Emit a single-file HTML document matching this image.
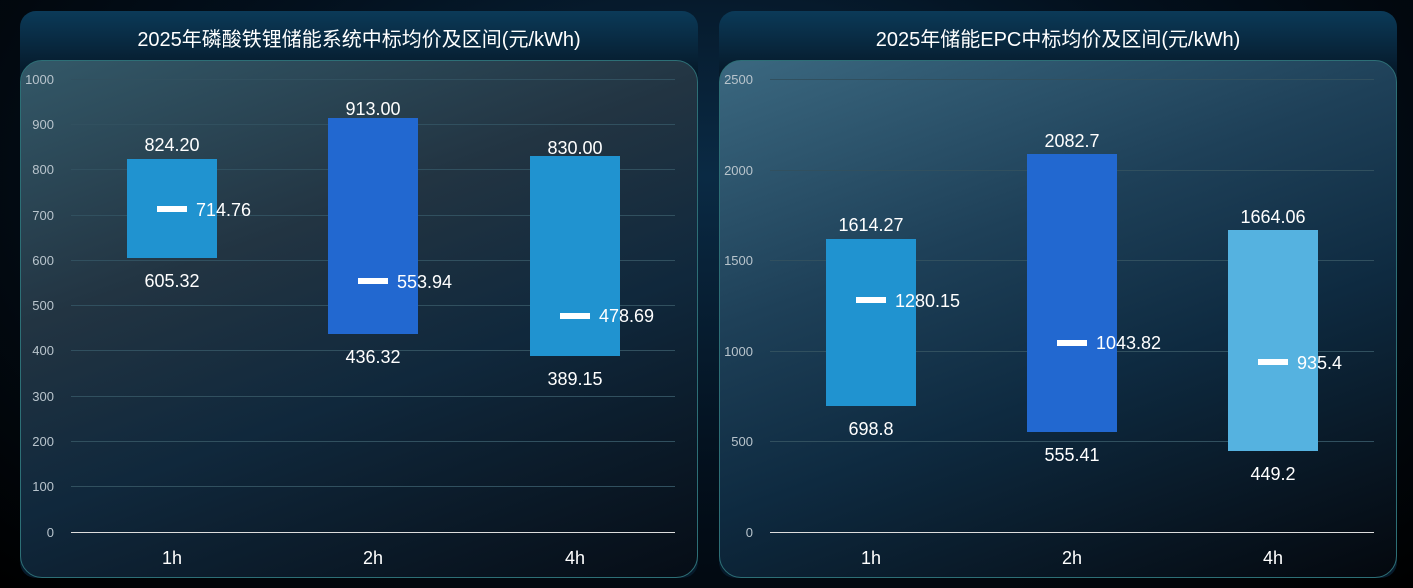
<!DOCTYPE html>
<html><head><meta charset="utf-8"><style>
body{margin:0;width:1413px;height:588px;overflow:hidden;background:radial-gradient(ellipse at 50% 30%,#0a2a44 0%,#03101d 50%,#000 100%);font-family:"Liberation Sans","Noto Sans CJK SC",sans-serif}
.p{position:absolute;top:11px;width:678px;height:567px;border-radius:16px;background:linear-gradient(180deg,#0b3a58,#061a2b 60px);}
.in{position:absolute;left:0;top:49px;width:676px;height:516px;border-radius:22px;border:1px solid #2d6f76;background:linear-gradient(160deg,#335868 0%,#223442 35%,#10283c 60%,#060d16 100%)}
.t{position:absolute;top:12px;width:100%;text-align:center;color:#fff;font-size:20px}
svg{position:absolute;left:0;top:0}
</style></head><body>
<div class="p" style="left:20px"><div class="in"></div><div class="t">2025年磷酸铁锂储能系统中标均价及区间(元/kWh)</div></div>
<div class="p" style="left:719px"><div class="in" style="background:linear-gradient(160deg,#3b6880 0%,#1e4058 35%,#0e2a40 60%,#04080e 100%)"></div><div class="t">2025年储能EPC中标均价及区间(元/kWh)</div></div>
<svg width="1413" height="588" font-family="Liberation Sans, sans-serif">
<g stroke="#31505f" stroke-width="1">
<line x1="71" x2="675" y1="79.5" y2="79.5"/><line x1="71" x2="675" y1="124.5" y2="124.5"/><line x1="71" x2="675" y1="169.5" y2="169.5"/><line x1="71" x2="675" y1="215.5" y2="215.5"/><line x1="71" x2="675" y1="260.5" y2="260.5"/><line x1="71" x2="675" y1="305.5" y2="305.5"/><line x1="71" x2="675" y1="350.5" y2="350.5"/><line x1="71" x2="675" y1="396.5" y2="396.5"/><line x1="71" x2="675" y1="441.5" y2="441.5"/><line x1="71" x2="675" y1="486.5" y2="486.5"/>
<line x1="770" x2="1374" y1="79.5" y2="79.5"/><line x1="770" x2="1374" y1="170.5" y2="170.5"/><line x1="770" x2="1374" y1="260.5" y2="260.5"/><line x1="770" x2="1374" y1="351.5" y2="351.5"/><line x1="770" x2="1374" y1="441.5" y2="441.5"/>
</g>
<line x1="71" x2="675" y1="532.5" y2="532.5" stroke="#ddd"/>
<line x1="770" x2="1374" y1="532.5" y2="532.5" stroke="#ddd"/>
<g fill="#b8c4cc" font-size="13" text-anchor="end">
<text x="54" y="84">1000</text><text x="54" y="129">900</text><text x="54" y="174">800</text><text x="54" y="220">700</text><text x="54" y="265">600</text><text x="54" y="310">500</text><text x="54" y="355">400</text><text x="54" y="401">300</text><text x="54" y="446">200</text><text x="54" y="491">100</text><text x="54" y="537">0</text>
<text x="753" y="84">2500</text><text x="753" y="175">2000</text><text x="753" y="265">1500</text><text x="753" y="356">1000</text><text x="753" y="446">500</text><text x="753" y="537">0</text>
</g>
<g fill="#fff" font-size="18" text-anchor="middle">
<text x="172" y="564">1h</text><text x="373" y="564">2h</text><text x="575" y="564">4h</text>
<text x="871" y="564">1h</text><text x="1072" y="564">2h</text><text x="1273" y="564">4h</text>
</g>
<rect x="127" y="159" width="90" height="99" fill="#2093d0"/>
<rect x="328" y="118" width="90" height="216" fill="#2268d0"/>
<rect x="530" y="156" width="90" height="200" fill="#2093d0"/>
<rect x="826" y="239" width="90" height="167" fill="#2093d0"/>
<rect x="1027" y="154" width="90" height="278" fill="#2268d0"/>
<rect x="1228" y="230" width="90" height="221" fill="#55b2e0"/>
<g fill="#fff">
<rect x="157" y="206" width="30" height="6"/><rect x="358" y="278" width="30" height="6"/><rect x="560" y="313" width="30" height="6"/>
<rect x="856" y="297" width="30" height="6"/><rect x="1057" y="340" width="30" height="6"/><rect x="1258" y="359" width="30" height="6"/>
</g>
<g fill="#fff" font-size="18" text-anchor="middle">
<text x="172" y="151">824.20</text><text x="172" y="287">605.32</text>
<text x="373" y="115">913.00</text><text x="373" y="363">436.32</text>
<text x="575" y="154">830.00</text><text x="575" y="385">389.15</text>
<text x="871" y="231">1614.27</text><text x="871" y="435">698.8</text>
<text x="1072" y="147">2082.7</text><text x="1072" y="461">555.41</text>
<text x="1273" y="223">1664.06</text><text x="1273" y="480">449.2</text>
</g>
<g fill="#fff" font-size="18">
<text x="196" y="216">714.76</text><text x="397" y="288">553.94</text><text x="599" y="322">478.69</text>
<text x="895" y="307">1280.15</text><text x="1096" y="349">1043.82</text><text x="1297" y="369">935.4</text>
</g>
</svg>
</body></html>
